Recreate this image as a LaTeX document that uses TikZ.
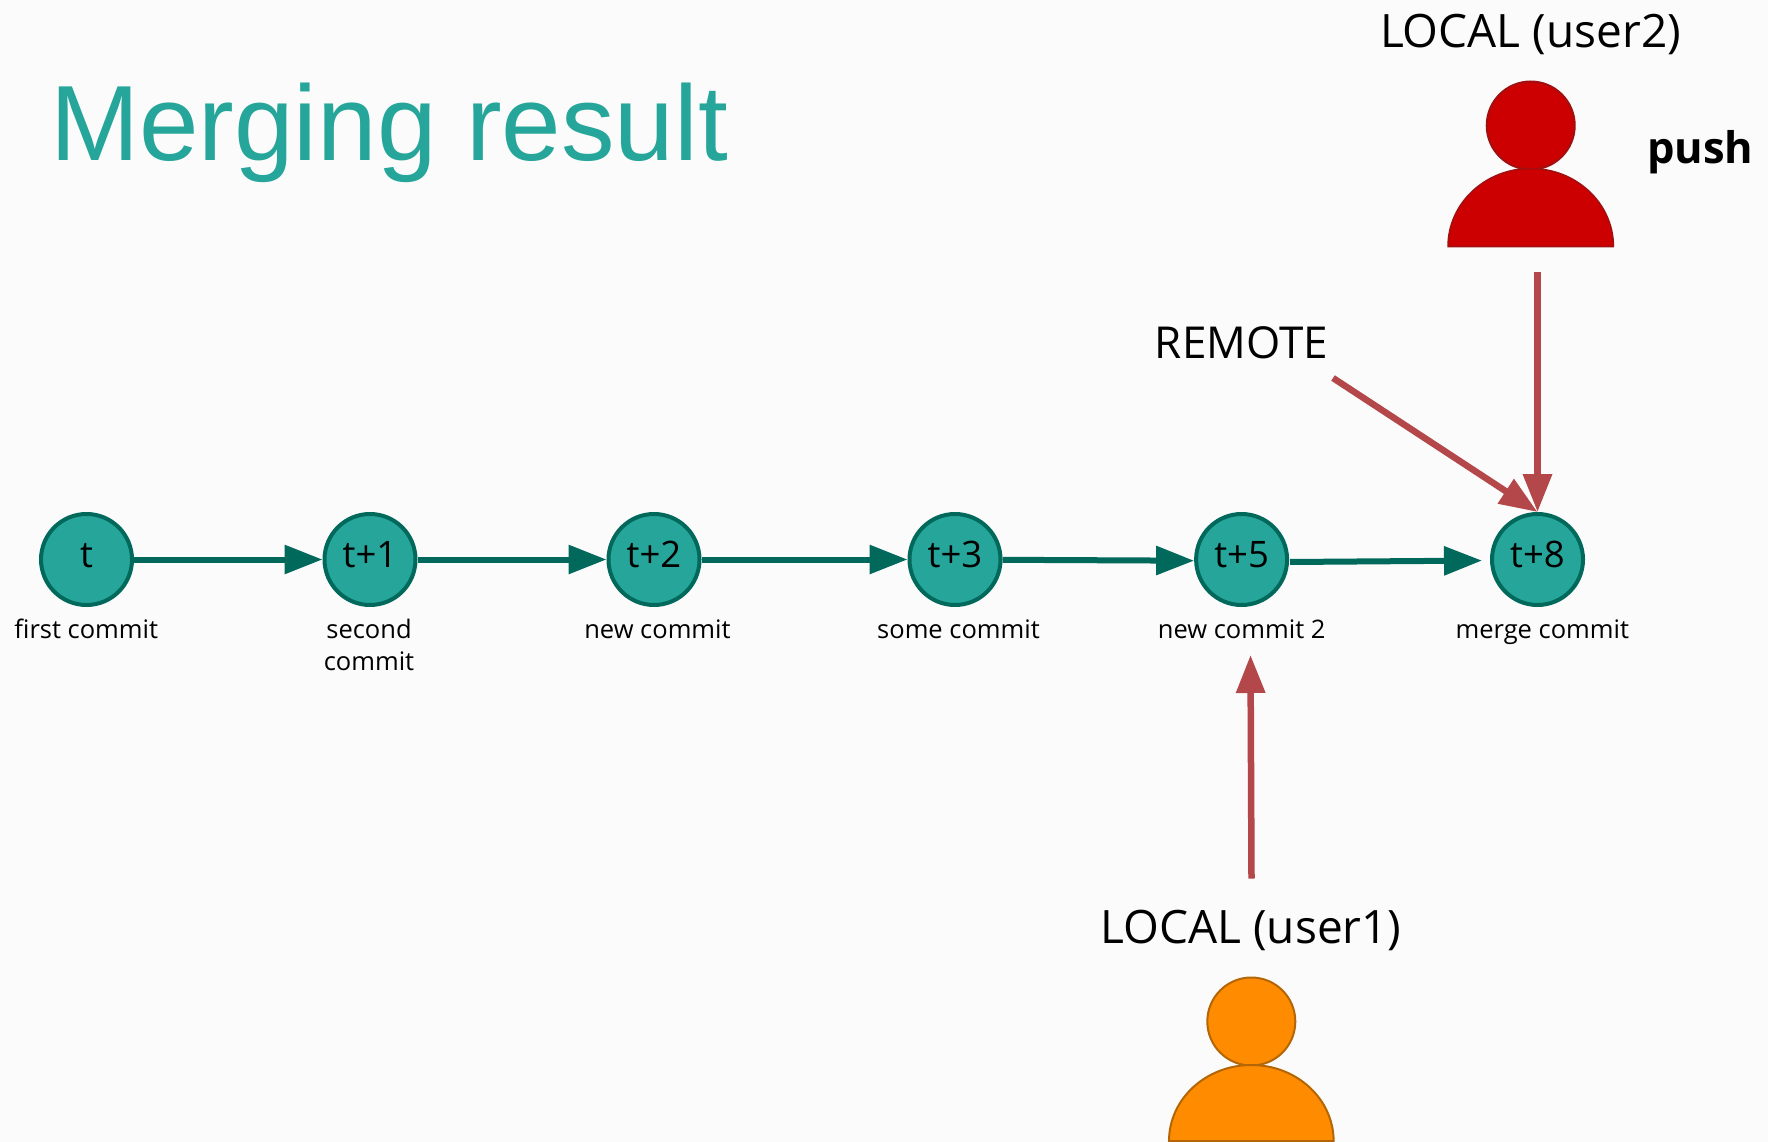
\documentclass[tikz,border=0pt]{standalone}
\usepackage{fontspec}
\setmainfont{Open Sans}
\newfontfamily\titlefont{Liberation Sans}
\usetikzlibrary{arrows.meta}
\definecolor{teal1}{HTML}{26A69A}
\definecolor{teal2}{HTML}{00695C}
\definecolor{redline}{HTML}{B3474A}
\definecolor{bgc}{HTML}{FBFBFB}
\definecolor{redfill}{HTML}{CC0000}
\definecolor{redstroke}{HTML}{A01010}
\definecolor{orfill}{HTML}{FF8C00}
\definecolor{orstroke}{HTML}{B46504}
\newcommand{\fs}[1]{\fontsize{#1}{#1}\selectfont}
\tikzset{
  x=1pt,y=-1pt,
  commit/.style={circle,draw=teal2,fill=teal1,line width=4pt,minimum size=91pt,inner sep=0pt,font=\fs{36.5},text=black,text height=23pt,text depth=8pt},
  caption/.style={anchor=base,inner sep=0pt,font=\fs{25.5},text=black},
  big/.style={anchor=base,inner sep=0pt,font=\fs{46},text=black},
  flow/.style={draw=teal2,line width=6pt,-{Triangle[length=38pt,width=28pt,fill=teal2]}},
  hit/.style={draw=redline,line width=6.5pt,-{Triangle[length=38pt,width=28pt,fill=redline]}},
  head/.style={circle,line width=2pt,minimum size=88pt,inner sep=0pt},
}
\begin{document}
\begin{tikzpicture}
\useasboundingbox (0,0) rectangle (1768,1142);
\fill[bgc] (0,0) rectangle (1768,1142);
\node[anchor=base west,inner sep=0pt,text=teal1,font=\titlefont\fs{107}] (title) at (50,161) {Merging result};

\node[commit] (t0) at (86.5,559.5) {t};
\node[commit] (t1) at (370,559.5) {t+1};
\node[commit] (t2) at (654,559.5) {t+2};
\node[commit] (t3) at (955,559.5) {t+3};
\node[commit] (t5) at (1241.6,559.5) {t+5};
\node[commit] (t8) at (1537.5,559.5) {t+8};

\node[caption] (c0) at (86.3,638.5) {first commit};
\node[caption] (c1a) at (369,638.5) {second};
\node[caption] (c1b) at (369,670) {commit};
\node[caption] (c2) at (657.5,638.5) {new commit};
\node[caption] (c3) at (958.5,638.5) {some commit};
\node[caption] (c5) at (1241.7,638.5) {new commit 2};
\node[caption] (c8) at (1542.3,638.5) {merge commit};

\draw[flow] (t0) -- (t1);
\draw[flow] (t1) -- (t2);
\draw[flow] (t2) -- (t3);
\draw[flow] ([yshift=-0.3pt]t3.east) -- ([yshift=-1.2pt]t5.west);
\draw[flow,shorten <=1pt,shorten >=8pt] ([yshift=-2.5pt]t5.east) -- ([yshift=-1pt]t8.west);

% user 2
\node[big] (u2) at (1530.5,48) {LOCAL (user2)};
\node[head,fill=redfill,draw=redstroke] (h2) at (1530.7,125.5) {};
\draw[fill=redfill,draw=redstroke,line width=1.5pt] (1448,246.5) arc[start angle=180,end angle=360,x radius=82.7,y radius=78] -- cycle;
\node[anchor=base west,inner sep=0pt,font=\fs{43.5}\bfseries] (p) at (1647,164) {push};

% remote
\node[big,font=\fs{44}] (rem) at (1241.5,358) {REMOTE};
\coordinate (rs) at (1333,378);
\coordinate (us) at (1537.5,272);
\draw[hit] (rs) -- (t8.north);
\draw[hit] (us) -- (t8.north);

% user 1
\coordinate (ls) at (1251.5,878.5);
\coordinate (le) at (1250.5,655);
\draw[hit] (ls) -- (le);
\node[big] (u1) at (1251,943.5) {LOCAL (user1)};
\node[head,fill=orfill,draw=orstroke] (h1) at (1251.3,1021.5) {};
\draw[fill=orfill,draw=orstroke,line width=2pt] (1169,1141) arc[start angle=180,end angle=360,x radius=82.3,y radius=76] -- cycle;
\end{tikzpicture}
\end{document}
